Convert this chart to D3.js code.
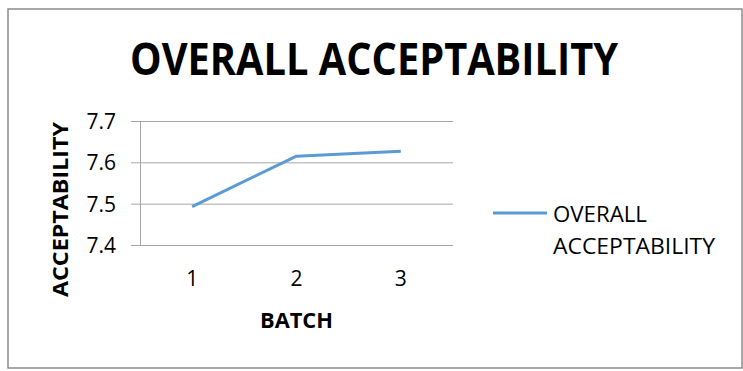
<!DOCTYPE html>
<html>
<head>
<meta charset="utf-8">
<script src="https://cdn.jsdelivr.net/npm/d3@7"></script>
<style>
  html, body { margin: 0; padding: 0; background: #fff; }
  svg { display: block; }
  text { font-family: "Open Sans", "DejaVu Sans", sans-serif; fill: #000; }
</style>
</head>
<body>
<svg id="chart" width="743" height="371"></svg>
<script>
// Overall acceptability score per batch
const batches = ["1", "2", "3"];
const acceptability = [7.493, 7.615, 7.627];
const yTicks = [7.4, 7.5, 7.6, 7.7];
const chartTitle = "OVERALL ACCEPTABILITY";
const xTitle = "BATCH";
const yTitle = "ACCEPTABILITY";
const seriesName = ["OVERALL", "ACCEPTABILITY"];

const svg = d3.select("#chart");
const plot = { left: 140, right: 453, top: 121, bottom: 245 };
const lineColor = "#5b9bd5";
const gridColor = "#a6a6a6";

// outer frame
svg.append("rect")
  .attr("x", 8).attr("y", 9).attr("width", 734).attr("height", 359)
  .attr("fill", "#fff").attr("stroke", "#8c8c8c").attr("stroke-width", 1.5);

const x = d3.scaleBand().domain(batches).range([plot.left, plot.right]);
const y = d3.scaleLinear().domain([7.4, 7.7]).range([plot.bottom, plot.top]);

// horizontal gridlines with outside tick marks
const yAxis = svg.append("g")
  .attr("transform", `translate(${plot.left},0)`)
  .call(d3.axisLeft(y).tickValues(yTicks).tickFormat(d3.format(".1f"))
    .tickSizeInner(-(plot.right - plot.left)).tickSizeOuter(0).tickPadding(24));
yAxis.select(".domain").remove();
yAxis.selectAll(".tick line")
  .attr("x1", -9).attr("stroke", gridColor).attr("stroke-width", 1);
yAxis.selectAll(".tick text")
  .style("font-size", "21px").attr("fill", "#111").attr("font-family", "Open Sans")
  .attr("dy", "0.36em");

// vertical axis line
svg.append("line")
  .attr("x1", plot.left + 0.5).attr("x2", plot.left + 0.5)
  .attr("y1", plot.top).attr("y2", plot.bottom)
  .attr("stroke", gridColor).attr("stroke-width", 1);

// category axis labels
const xAxis = svg.append("g")
  .attr("transform", `translate(0,${plot.bottom})`)
  .call(d3.axisBottom(x).tickSize(0).tickPadding(26));
xAxis.select(".domain").remove();
xAxis.selectAll(".tick text")
  .style("font-size", "21px").attr("fill", "#111").attr("font-family", "Open Sans");

// series line
const line = d3.line()
  .x((d, i) => x(batches[i]) + x.bandwidth() / 2)
  .y(d => y(d));
svg.append("path")
  .datum(acceptability)
  .attr("d", line)
  .attr("fill", "none")
  .attr("stroke", lineColor)
  .attr("stroke-width", 3)
  .attr("stroke-linejoin", "round");

// chart title
svg.append("text")
  .attr("x", 130).attr("y", 75)
  .attr("textLength", 488).attr("lengthAdjust", "spacingAndGlyphs")
  .style("font-size", "45px").style("font-weight", "bold")
  .text(chartTitle);

// axis titles
svg.append("text")
  .attr("x", 260).attr("y", 328)
  .attr("textLength", 73).attr("lengthAdjust", "spacingAndGlyphs")
  .style("font-size", "22px").style("font-weight", "bold")
  .text(xTitle);

svg.append("text")
  .attr("transform", "translate(68,297) rotate(-90)")
  .attr("textLength", 175).attr("lengthAdjust", "spacingAndGlyphs")
  .style("font-size", "22px").style("font-weight", "bold")
  .text(yTitle);

// legend
svg.append("line")
  .attr("x1", 493).attr("x2", 547).attr("y1", 213).attr("y2", 213)
  .attr("stroke", lineColor).attr("stroke-width", 3);
svg.append("text")
  .attr("x", 553).attr("y", 222)
  .attr("textLength", 94).attr("lengthAdjust", "spacingAndGlyphs")
  .style("font-size", "22px").attr("fill", "#111")
  .text(seriesName[0]);
svg.append("text")
  .attr("x", 553).attr("y", 254)
  .attr("textLength", 162).attr("lengthAdjust", "spacingAndGlyphs")
  .style("font-size", "22px").attr("fill", "#111")
  .text(seriesName[1]);
</script>
</body>
</html>
